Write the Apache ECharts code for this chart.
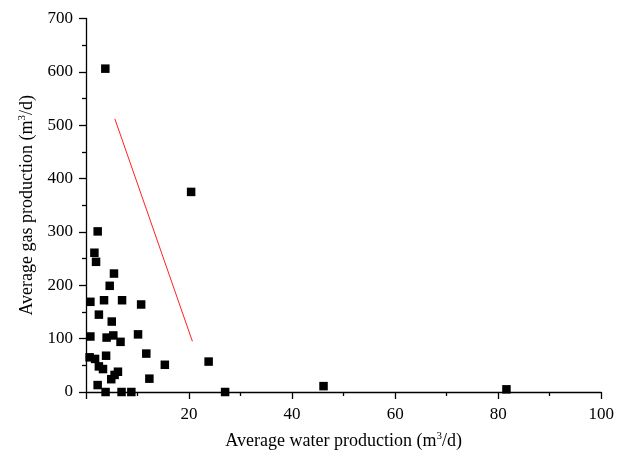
<!DOCTYPE html>
<html><head><meta charset="utf-8">
<script src="https://cdn.jsdelivr.net/npm/echarts@6/dist/echarts.min.js"></script>
<style>html,body{margin:0;padding:0;background:#fff}#c{width:617px;height:462px}</style>
</head><body><div id="c"></div>
<script>
var waterProd = [3.75, 20.4, 2.27, 1.63, 1.95, 5.43, 4.6, 0.85, 3.5, 7.0, 10.7, 2.5, 5.0, 0.85, 4.0, 5.3, 6.7, 10.1, 0.7, 1.76, 3.9, 11.7, 15.3, 23.8, 2.5, 3.3, 6.2, 5.55, 4.9, 12.3, 2.26, 3.8, 6.9, 8.8, 27.0, 46.1, 81.6];
var gasProd = [606, 375, 301, 261, 244, 222, 199, 169, 172, 172, 164, 145, 132, 104, 102, 106, 94, 108, 65, 62, 68, 72, 51, 57, 48, 43, 38, 32, 24, 25, 13, 0, 0, 0, 0, 11, 5];
var lineX = [5.6, 20.65];
var lineY = [512, 95];

var pts = waterProd.map(function(x, i){ return [x, gasProd[i]]; });
var linePts = lineX.map(function(x, i){ return [x, lineY[i]]; });
var font = 'Liberation Serif';
var chart = echarts.init(document.getElementById('c'));
chart.setOption({
  animation: false,
  backgroundColor: '#fff',
  grid: {left: 86, right: 15, top: 18.5, bottom: 70},
  xAxis: {
    type: 'value', min: 0, max: 100, interval: 20,
    name: '{a|Average water production (m}{s|3}{a|/d)}',
    nameLocation: 'middle', nameGap: 39,
    nameTextStyle: {rich: {
      a: {fontFamily: font, fontSize: 18, color: '#000'},
      s: {fontFamily: font, fontSize: 11, color: '#000', padding: [0,0,10,0]}
    }},
    axisLine: {show: true, lineStyle: {color: '#000', width: 1.3}},
    axisTick: {show: true, inside: false, length: 7, lineStyle: {color: '#000', width: 1.3}},
    minorTick: {show: true, splitNumber: 2, length: 4, lineStyle: {color: '#000', width: 1.3}},
    splitLine: {show: false},
    axisLabel: {fontFamily: font, fontSize: 17, color: '#000', margin: 14,
      formatter: function(v){ return v === 0 ? '' : String(v); }}
  },
  yAxis: {
    type: 'value', min: 0, max: 700, interval: 100,
    name: '{a|Average gas production (m}{s|3}{a|/d)}',
    nameLocation: 'middle', nameGap: 47, nameRotate: 90,
    nameTextStyle: {rich: {
      a: {fontFamily: font, fontSize: 18, color: '#000'},
      s: {fontFamily: font, fontSize: 11, color: '#000', padding: [0,0,10,0]}
    }},
    axisLine: {show: true, lineStyle: {color: '#000', width: 1.3}},
    axisTick: {show: true, inside: false, length: 7, lineStyle: {color: '#000', width: 1.3}},
    minorTick: {show: true, splitNumber: 2, length: 4, lineStyle: {color: '#000', width: 1.3}},
    splitLine: {show: false},
    axisLabel: {fontFamily: font, fontSize: 17, color: '#000', margin: 13}
  },
  series: [
    {type: 'scatter', data: pts, symbol: 'rect', symbolSize: 8.5,
     itemStyle: {color: '#000', opacity: 1}, clip: true, z: 3},
    {type: 'line', data: linePts, symbol: 'none', lineStyle: {color: '#ff2020', width: 1}, z: 2}
  ]
});
</script></body></html>
